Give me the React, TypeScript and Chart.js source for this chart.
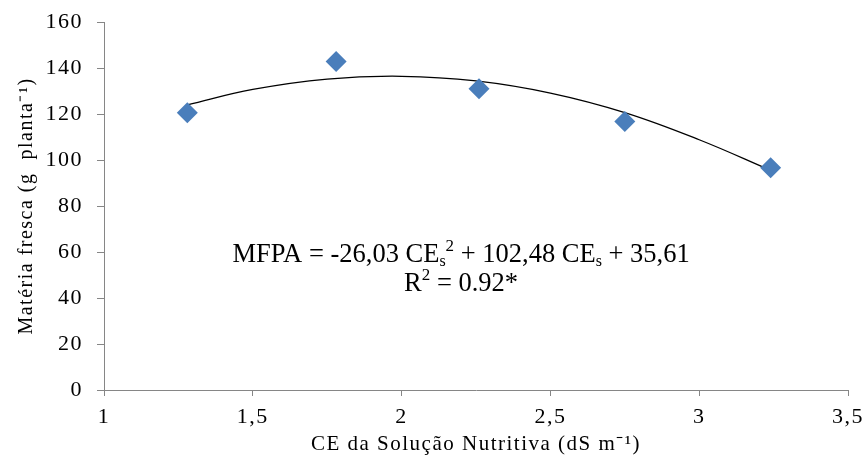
import { useEffect, useRef } from "react";
import { Chart, registerables } from "chart.js";

Chart.register(...registerables);

// Observed data (CE of nutrient solution vs fresh mass of aerial part)
const ceLevels = [1.28, 1.78, 2.26, 2.75, 3.24];
const freshMass = [120.5, 142.8, 131.0, 116.7, 96.6];

// Fitted quadratic trend line
const trendCe = [1.28, 1.5, 1.75, 2.0, 2.25, 2.5, 2.75, 3.0, 3.24];
const trendMass = [124.0, 130.7, 135.2, 136.4, 134.4, 129.1, 120.6, 108.8, 95.5];

// Axes
const xMin = 1;
const xMax = 3.5;
const xStep = 0.5;
const yMin = 0;
const yMax = 160;
const yStep = 20;
const xTitle = "CE da Solução Nutritiva (dS m⁻¹)";
const yTitle = "Matéria fresca (g  planta⁻¹)";

// Equation annotation (text segments: normal / sub / sup)
const eqLine1 = [
  { t: "MFPA = -26,03 CE", k: "n" },
  { t: "s", k: "sub" },
  { t: "2", k: "sup" },
  { t: " + 102,48 CE", k: "n" },
  { t: "s", k: "sub" },
  { t: " + 35,61", k: "n" },
];
const eqLine2 = [
  { t: "R", k: "n" },
  { t: "2", k: "sup" },
  { t: " = 0.92*", k: "n" },
];
const eqAnchorX = 2.2;
const eqLine1Y = 55.5;
const eqLine2Y = 43;

const SERIF = "'Liberation Serif', 'Times New Roman', serif";

const spacingPlugin = {
  id: "spacing",
  beforeDraw(chart: any) {
    chart.ctx.letterSpacing = "1.5px";
  },
};

const equationPlugin = {
  id: "equation",
  afterDatasetsDraw(chart: any) {
    const ctx = chart.ctx as CanvasRenderingContext2D;
    const xs = chart.scales.x;
    const ys = chart.scales.y;
    const fontFor = (k: string) =>
      k === "n" ? `26.5px ${SERIF}` : k === "sub" ? `16px ${SERIF}` : `17px ${SERIF}`;
    const dyFor = (k: string) => (k === "n" ? 0 : k === "sub" ? 4 : -11);
    const drawLine = (segs: { t: string; k: string }[], cx: number, by: number) => {
      let total = 0;
      const widths: number[] = [];
      for (const s of segs) {
        ctx.font = fontFor(s.k);
        const w = ctx.measureText(s.t).width;
        widths.push(w);
        total += w;
      }
      let x = cx - total / 2;
      segs.forEach((s, i) => {
        ctx.font = fontFor(s.k);
        ctx.fillText(s.t, x, by + dyFor(s.k));
        x += widths[i];
      });
    };
    ctx.save();
    ctx.letterSpacing = "0px";
    ctx.fillStyle = "#000";
    ctx.textAlign = "left";
    ctx.textBaseline = "alphabetic";
    const cx = xs.getPixelForValue(eqAnchorX);
    drawLine(eqLine1, cx, ys.getPixelForValue(eqLine1Y));
    drawLine(eqLine2, cx, ys.getPixelForValue(eqLine2Y));
    ctx.restore();
  },
};

export default function App() {
  const canvasRef = useRef<HTMLCanvasElement | null>(null);

  useEffect(() => {
    document.body.style.margin = "0";
    const canvas = canvasRef.current;
    if (!canvas) return;
    const axisColor = "#868686";
    const chart = new Chart(canvas, {
      type: "scatter",
      data: {
        datasets: [
          {
            type: "line",
            label: "Tendência",
            data: trendCe.map((x, i) => ({ x, y: trendMass[i] })),
            borderColor: "#000",
            borderWidth: 1.3,
            pointRadius: 0,
            tension: 0.4,
            fill: false,
            order: 2,
          } as any,
          {
            type: "scatter",
            label: "MFPA",
            data: ceLevels.map((x, i) => ({ x, y: freshMass[i] })),
            backgroundColor: "#4A7EBB",
            borderColor: "#4A7EBB",
            borderWidth: 0,
            pointStyle: "rectRot",
            pointRadius: 10.5,
            order: 1,
          } as any,
        ],
      },
      options: {
        animation: false,
        responsive: true,
        maintainAspectRatio: false,
        layout: { padding: { top: 22, right: 14, left: 0, bottom: 0 } },
        plugins: {
          legend: { display: false },
          tooltip: { enabled: false },
        },
        scales: {
          x: {
            type: "linear",
            min: xMin,
            max: xMax,
            afterFit(scale: any) {
              scale.height = 69;
              scale.paddingLeft = 0;
              scale.paddingRight = 0;
            },
            ticks: {
              stepSize: xStep,
              color: "#000",
              padding: 8,
              font: { family: SERIF, size: 22 },
              callback: (v: any) => String(v).replace(".", ","),
            },
            grid: {
              drawOnChartArea: false,
              drawTicks: true,
              tickLength: 6,
              color: axisColor,
            },
            border: { color: axisColor, width: 1 },
            title: {
              display: true,
              text: xTitle,
              color: "#000",
              font: { family: SERIF, size: 21, lineHeight: 1.0 },
            },
          },
          y: {
            type: "linear",
            min: yMin,
            max: yMax,
            afterFit(scale: any) {
              scale.width = 104;
              scale.paddingTop = 0;
              scale.paddingBottom = 0;
            },
            ticks: {
              stepSize: yStep,
              color: "#000",
              padding: 14,
              font: { family: SERIF, size: 22 },
            },
            grid: {
              drawOnChartArea: false,
              drawTicks: true,
              tickLength: 7,
              color: axisColor,
            },
            border: { color: axisColor, width: 1 },
            title: {
              display: true,
              text: yTitle,
              color: "#000",
              font: { family: SERIF, size: 20, lineHeight: 2.3 },
            },
          },
        },
      },
      plugins: [spacingPlugin, equationPlugin],
    });
    return () => chart.destroy();
  }, []);

  return (
    <div style={{ width: 862, height: 459, position: "relative" }}>
      <canvas ref={canvasRef} />
    </div>
  );
}
